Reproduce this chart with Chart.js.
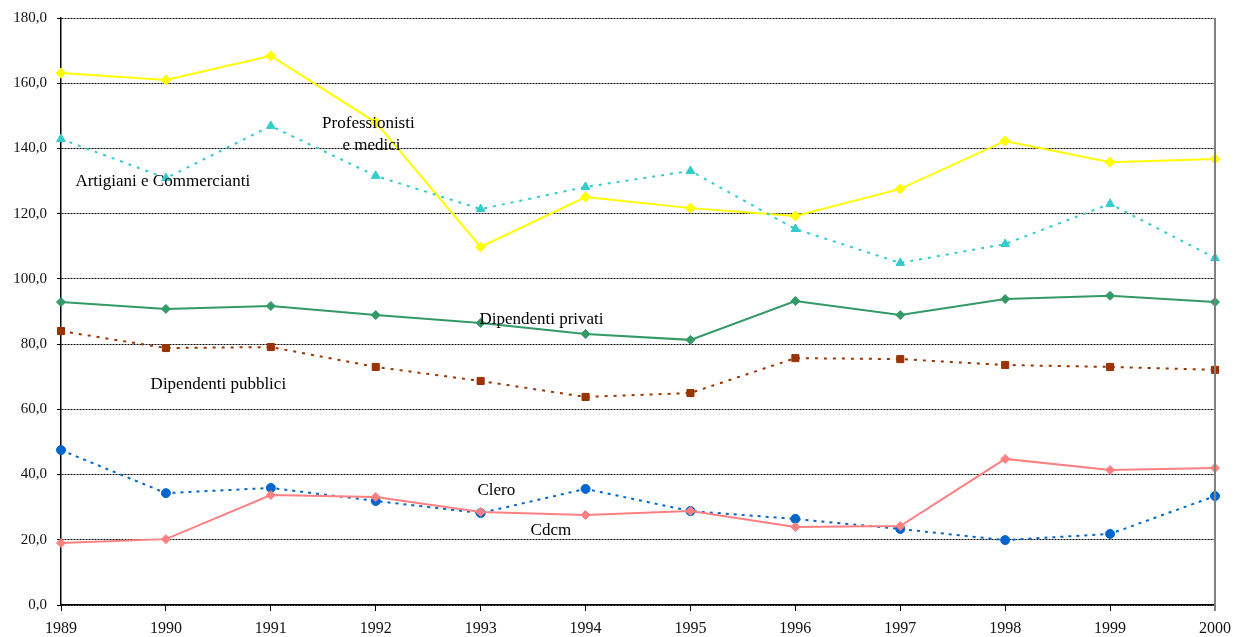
<!DOCTYPE html>
<html>
<head>
<meta charset="utf-8">
<script src="https://cdn.jsdelivr.net/npm/chart.js@4.4.1/dist/chart.umd.min.js"></script>
<style>
  html, body { margin: 0; padding: 0; background: #fff; }
  #wrap { width: 1235px; height: 637px; }
</style>
</head>
<body>
<div id="wrap"><canvas id="c" width="1235" height="637"></canvas></div>
<script>
// ── Data ──────────────────────────────────────────────────────────────────
const years = ["1989","1990","1991","1992","1993","1994","1995","1996","1997","1998","1999","2000"];

const professionisti = [163.1, 161.0, 168.4, 148.0, 109.8, 125.1, 121.7, 119.3, 127.6, 142.3, 135.8, 136.8];
const artigiani      = [142.9, 130.9, 146.9, 131.6, 121.4, 128.2, 133.1, 115.3, 104.9, 110.7, 123.0, 106.4];
const dipPrivati     = [92.9, 90.8, 91.7, 88.9, 86.5, 83.1, 81.3, 93.2, 88.9, 93.8, 94.8, 92.9];
const dipPubblici    = [84.0, 78.8, 79.1, 73.0, 68.7, 63.8, 65.0, 75.7, 75.4, 73.6, 73.0, 72.1];
const clero          = [47.5, 34.3, 35.9, 31.9, 28.2, 35.6, 28.8, 26.4, 23.3, 19.9, 21.8, 33.4];
const cdcm           = [19.0, 20.2, 33.7, 33.1, 28.5, 27.6, 28.8, 23.9, 24.2, 44.8, 41.4, 42.0];

const yTicks = [0, 20, 40, 60, 80, 100, 120, 140, 160, 180];

// in-chart labels, anchored in data space (category index, value)
const seriesLabels = [
  { text: "Professionisti",           x: 2.93, y: 147.5 },
  { text: "e medici",                 x: 2.96, y: 140.8 },
  { text: "Artigiani e Commercianti", x: 0.97, y: 130.0 },
  { text: "Dipendenti privati",       x: 4.58, y: 87.4 },
  { text: "Dipendenti pubblici",      x: 1.50, y: 67.5 },
  { text: "Clero",                    x: 4.15, y: 35.0 },
  { text: "Cdcm",                     x: 4.67, y: 22.7 }
];

const SERIF = "'Liberation Serif', 'DejaVu Serif', serif";

// ── Plugins ───────────────────────────────────────────────────────────────
const labelsPlugin = {
  id: "seriesLabels",
  afterDatasetsDraw(chart) {
    const { ctx, scales: { x, y } } = chart;
    ctx.save();
    ctx.font = `17px ${SERIF}`;
    ctx.fillStyle = "#000";
    ctx.textAlign = "center";
    ctx.textBaseline = "middle";
    seriesLabels.forEach(l => {
      const px = x.left + (x.right - x.left) * l.x / (years.length - 1);
      ctx.fillText(l.text, px, y.getPixelForValue(l.y));
    });
    ctx.restore();
  }
};

const rightBorder = {
  id: "rightBorder",
  afterDraw(chart) {
    const { ctx, chartArea: a } = chart;
    ctx.save();
    ctx.strokeStyle = "#808080";
    ctx.lineWidth = 2;
    ctx.beginPath();
    ctx.moveTo(a.right, a.top);
    ctx.lineTo(a.right, a.bottom + 6);
    ctx.stroke();
    ctx.restore();
  }
};

// ── Chart ─────────────────────────────────────────────────────────────────
function ds(data, colour, pointStyle, radius, dash) {
  return {
    data,
    borderColor: colour,
    backgroundColor: colour,
    pointBackgroundColor: colour,
    pointBorderColor: colour,
    pointStyle,
    pointRadius: radius,
    pointBorderWidth: 1,
    borderWidth: 2,
    borderDash: dash || [],
    tension: 0
  };
}

new Chart(document.getElementById("c").getContext("2d"), {
  type: "line",
  data: {
    labels: years,
    datasets: [
      ds(cdcm,           "#FF8080", "rectRot",  4.5),
      ds(clero,          "#0066CC", "circle",   4.5, [3, 5]),
      ds(dipPubblici,    "#993300", "rect",     5,   [3, 6]),
      ds(dipPrivati,     "#339966", "rectRot",  4.5),
      ds(artigiani,      "#33CCCC", "triangle", 5,   [3, 6]),
      ds(professionisti, "#FFFF00", "rectRot",  5)
    ]
  },
  options: {
    responsive: false,
    animation: false,
    layout: { padding: { left: 0, right: 20, top: 18, bottom: 0 } },
    plugins: { legend: { display: false }, tooltip: { enabled: false } },
    scales: {
      x: {
        offset: false,
        grid: { drawOnChartArea: false, drawTicks: true, tickLength: 6, color: "#000", lineWidth: 1 },
        border: { display: true, color: "#000", width: 1.5 },
        ticks: { color: "#111", font: { family: SERIF, size: 16 }, padding: 8, maxRotation: 0 },
        afterFit(s) { s.height = 32; s.paddingLeft = 0; s.paddingRight = 0; }
      },
      y: {
        min: 0, max: 180,
        afterBuildTicks(s) { s.ticks = yTicks.map(v => ({ value: v })); },
        grid: {
          color: "#000", lineWidth: 1, drawTicks: true, tickLength: 4,
          tickColor: "#000", tickBorderDash: []
        },
        border: { display: true, color: "#000", width: 1.5, dash: [2, 1] },
        ticks: {
          color: "#111", font: { family: SERIF, size: 15 }, padding: 10,
          callback: v => v.toFixed(1).replace(".", ",")
        },
        afterFit(s) { s.width = 61; s.paddingTop = 0; s.paddingBottom = 0; }
      }
    }
  },
  plugins: [labelsPlugin, rightBorder]
});
</script>
</body>
</html>
